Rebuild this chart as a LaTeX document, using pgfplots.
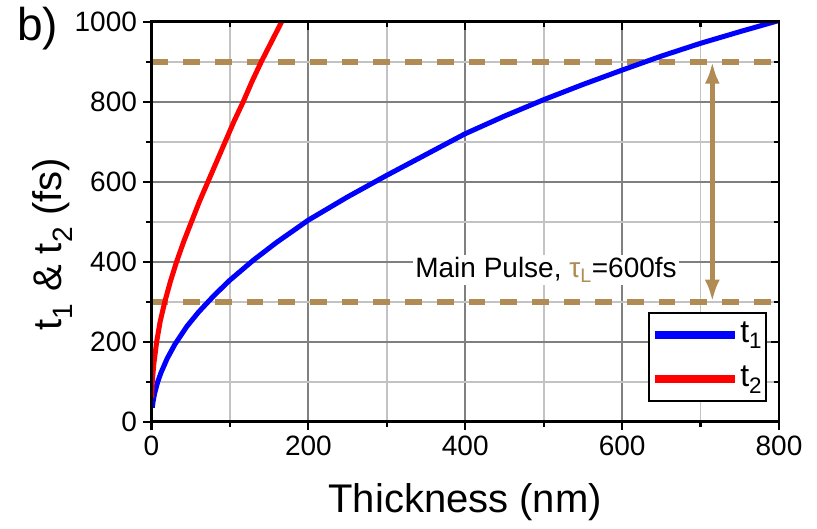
\documentclass[border=0pt]{standalone}
\usepackage{pgfplots}
\pgfplotsset{compat=1.18}
\usepackage{fontspec}
\setmainfont{Liberation Sans}
\usetikzlibrary{arrows.meta}
\definecolor{pulsetan}{RGB}{176,140,84}
\definecolor{majgrid}{RGB}{128,128,128}
\definecolor{mingrid}{RGB}{195,195,195}
\newcommand\fs[1]{\fontsize{#1}{#1}\selectfont}

\begin{document}
\begin{tikzpicture}
\path[use as bounding box] (0,0) rectangle (817pt,528pt);
\pgfplotsset{
  frame/.style={
    scale only axis, width=627.5pt, height=400pt,
    at={(151.5pt,106.3pt)}, anchor=south west,
    xmin=0, xmax=800, ymin=0, ymax=1000,
    xtick={0,200,...,800}, minor xtick={100,300,500,700},
    ytick={0,200,...,1000}, minor ytick={100,300,...,900},
    axis line style={line width=2.5pt, black},
    major tick length=8pt, minor tick length=5pt,
    every tick/.style={black, line width=2.2pt},
  }
}
\begin{axis}[frame,
  tick align=outside, xtick pos=left, ytick pos=left,
  grid=both,
  major grid style={majgrid, line width=2pt},
  minor grid style={mingrid, line width=1.8pt},
  /pgf/number format/assume math mode=true,
  /pgf/number format/1000 sep={},
  tick label style={font=\fs{28}},
  xticklabel style={yshift=-3pt},
  yticklabel style={xshift=-3pt},
  xlabel={Thickness (nm)},
  ylabel={t\textsubscript{1} \& t\textsubscript{2} (fs)},
  xlabel style={font=\fs{40}, at={(axis description cs:0.5,-0.228)}, anchor=base},
  ylabel style={font=\fs{40}, at={(axis description cs:-0.157,0.444)}, anchor=center},
  legend style={at={(rel axis cs:0.791,0.274)}, anchor=north west,
    draw=black, line width=2pt, fill=white, font=\fs{32},
    inner xsep=2pt, inner ysep=3pt, row sep=6pt,
    cells={anchor=west},
    nodes={inner sep=2pt, text height=24pt, text depth=10pt}},
  legend image code/.code={\draw[#1, line width=7.5pt] (0pt,0pt) -- (80pt,0pt);},
]
% pulse window limits
\addplot[forget plot, pulsetan, line width=6pt, dash pattern=on 16.7pt off 15pt]
  coordinates {(0,900) (800,900)};
\addplot[forget plot, pulsetan, line width=6pt, dash pattern=on 16.7pt off 15pt]
  coordinates {(0,300) (800,300)};
\addplot[forget plot, pulsetan, line width=5.5pt,
  {Latex[length=22pt,width=15pt]}-{Latex[length=22pt,width=15pt]}]
  coordinates {(715,300) (715,900)};
\node[fill=white, inner sep=2pt, font=\fs{28}] at (axis cs:503,379)
  {Main Pulse, {\color{pulsetan}τ\textsubscript{L}}=600fs};

\addplot[blue, line width=5pt, line join=round] coordinates {
  (1,35) (2,50) (4,71) (8,100) (12,122) (20,158) (30,194) (45,238)
  (60,274) (80,316) (100,354) (130,404) (160,449) (200,504) (250,562)
  (300,616) (350,668) (400,720) (450,764) (500,805) (550,843) (600,879)
  (650,914) (700,946) (750,975) (800,1003)};
\addlegendentry{t\textsubscript{1}}
\addplot[red, line width=5pt, line join=round] coordinates {
  (0.3,60) (1,100) (3,145) (6.6,200) (11,250) (17,300) (24,350) (32,400)
  (41,450) (51,500) (61,550) (72,600) (83,650) (94,700) (105,750)
  (117,800) (128,850) (140,900) (153,950) (166,1000) (172,1025)};
\addlegendentry{t\textsubscript{2}}
\end{axis}
\begin{axis}[frame, tick align=inside, xtick pos=right, ytick pos=right,
  xticklabels={}, yticklabels={}]
\end{axis}
\node[anchor=north west, font=\fs{46}, inner sep=0pt] at (17pt,521pt) {b)};
\end{tikzpicture}
\end{document}
